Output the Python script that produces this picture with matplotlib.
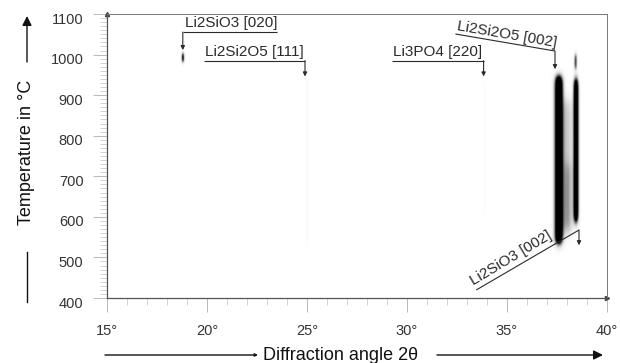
import numpy as np
import matplotlib
matplotlib.use('Agg')
import matplotlib.pyplot as plt
import matplotlib.transforms as mtransforms
from matplotlib.ticker import MultipleLocator, FixedLocator

plt.rcParams['font.family'] = ['Liberation Sans', 'DejaVu Sans']

# ---- data: diffraction intensity streaks (2theta centre, width, temperature range, strength)
peak_center = [18.79, 25.00, 33.90, 37.60, 38.02, 38.05, 38.46, 38.44]
peak_sigma = [0.045, 0.04, 0.04, 0.135, 0.20, 0.17, 0.085, 0.05]
peak_t_low = [983, 540, 620, 536, 560, 565, 590, 966]
peak_t_high = [1003, 950, 925, 945, 890, 730, 938, 1000]
peak_amp = [0.9, 0.05, 0.035, 1.6, 0.25, 0.15, 1.4, 0.65]
peak_edge = [3, 8, 8, 6, 10, 10, 7, 4]

x_ticks = [15, 20, 25, 30, 35, 40]
x_tick_labels = ['15°', '20°', '25°', '30°', '35°', '40°']
y_ticks = [400, 500, 600, 700, 800, 900, 1000, 1100]
y_tick_labels = ['400', '500', '600', '700', '800', '900', '1000', '1100']

# annotations: label, text anchor, rotation, underline start, underline end, arrow tip
ann_labels = ['Li2SiO3 [020]', 'Li2Si2O5 [111]', 'Li3PO4 [220]', 'Li2Si2O5 [002]', 'Li2SiO3 [002]']
ann_text_xy = [(18.89, 1068), (19.89, 996.5), (29.32, 996.5), (32.46, 1059.3), (33.30, 432)]
ann_rot = [0, 0, 0, -9.7, 31]
ann_line_start = [(23.48, 1055.6), (19.84, 984.9), (29.27, 984.9), (32.42, 1050.7), (33.46, 419.7)]
ann_line_end = [(18.79, 1055.6), (24.90, 984.9), (33.83, 984.9), (37.40, 1008.8), (38.60, 567.6)]
ann_tip_t = [1011, 946, 946, 964, 530]

# ---- build the intensity map
xs = np.linspace(15, 40, 1251)
ts = np.linspace(400, 1100, 701)
X, T = np.meshgrid(xs, ts)
Z = np.zeros_like(X)


def sig(v):
    return 1.0 / (1.0 + np.exp(-v))


for c, s, lo, hi, a, e in zip(peak_center, peak_sigma, peak_t_low, peak_t_high, peak_amp, peak_edge):
    env = sig((T - lo) / e) * sig((hi - T) / e)
    Z += a * np.exp(-0.5 * ((X - c) / s) ** 2) * env

fig = plt.figure(figsize=(6.2, 3.63), dpi=100)
ax = fig.add_axes([107 / 620, 1 - 298 / 363, 500 / 620, 284 / 363])
ax.imshow(Z, extent=[15, 40, 400, 1100], origin='lower', aspect='auto',
          cmap='Greys', vmin=0, vmax=0.8, interpolation='bilinear')
ax.set_xlim(15, 40)
ax.set_ylim(400, 1100)

ax.xaxis.set_major_locator(FixedLocator(x_ticks))
ax.set_xticklabels(x_tick_labels)
ax.yaxis.set_major_locator(FixedLocator(y_ticks))
ax.set_yticklabels(y_tick_labels)
ax.xaxis.set_minor_locator(MultipleLocator(1))
ax.yaxis.set_minor_locator(MultipleLocator(10))
ax.tick_params(which='major', length=10, width=0.6, color='#b0b0b0', pad=7,
               labelsize=10.5, labelcolor='#333333')
ax.tick_params(which='minor', length=5, width=0.5, color='#c0c0c0')

# y tick labels sit slightly below their ticks in the reference
off = mtransforms.ScaledTranslation(0, -4 / 100, fig.dpi_scale_trans)
for lbl in ax.get_yticklabels():
    lbl.set_transform(lbl.get_transform() + off)
offx = mtransforms.ScaledTranslation(0, -2 / 100, fig.dpi_scale_trans)
for lbl in ax.get_xticklabels():
    lbl.set_transform(lbl.get_transform() + offx)

for side in ['left', 'bottom']:
    ax.spines[side].set_color('#555555')
    ax.spines[side].set_linewidth(0.9)
for side in ['top', 'right']:
    ax.spines[side].set_color('#777777')
    ax.spines[side].set_linewidth(0.7)
    ax.spines[side].set_linestyle((0, (1, 1)))

# small axis-end arrows
ax.plot([1], [0], marker='>', ms=3, color='#444444', transform=ax.transAxes, clip_on=False)
ax.plot([0], [1], marker='^', ms=3, color='#444444', transform=ax.transAxes, clip_on=False)

tc = '#2a2a2a'
for lab, txy, rot, p0, p1, tip in zip(ann_labels, ann_text_xy, ann_rot,
                                      ann_line_start, ann_line_end, ann_tip_t):
    ax.text(txy[0], txy[1], lab, rotation=rot, rotation_mode='anchor',
            ha='left', va='baseline', fontsize=11, color=tc)
    ax.plot([p0[0], p1[0]], [p0[1], p1[1]], color=tc, lw=0.8, solid_capstyle='butt')
    ax.annotate('', xy=(p1[0], tip), xytext=(p1[0], p1[1]),
                arrowprops=dict(arrowstyle='-|>', lw=0.8, color=tc,
                                mutation_scale=6, shrinkA=0, shrinkB=0))

# ---- axis titles with arrows (figure fraction)
W, H = 620.0, 363.0


def fx(px):
    return px / W


def fy(py):
    return 1 - py / H


fig.text(fx(27), fy(152.5), 'Temperature in °C', rotation=90, ha='center', va='center',
         fontsize=13, color='#111111')
fig.add_artist(plt.Line2D([fx(27), fx(27)], [fy(252), fy(302)], color='#111111', lw=1.0))
fig.patches.append(matplotlib.patches.FancyArrowPatch(
    (fx(27), fy(62)), (fx(27), fy(16)), transform=fig.transFigure,
    arrowstyle='-|>', mutation_scale=14, lw=1.0, color='#111111', shrinkA=0, shrinkB=0))

fig.text(fx(340.5), fy(355), 'Diffraction angle 2θ', ha='center', va='center',
         fontsize=13, color='#111111')
fig.patches.append(matplotlib.patches.FancyArrowPatch(
    (fx(105), fy(355)), (fx(258), fy(355)), transform=fig.transFigure,
    arrowstyle='-|>', mutation_scale=4, lw=1.0, color='#111111', shrinkA=0, shrinkB=0))
fig.patches.append(matplotlib.patches.FancyArrowPatch(
    (fx(437), fy(355)), (fx(603), fy(355)), transform=fig.transFigure,
    arrowstyle='-|>', mutation_scale=14, lw=1.0, color='#111111', shrinkA=0, shrinkB=0))

fig.savefig('out.png', dpi=100)
